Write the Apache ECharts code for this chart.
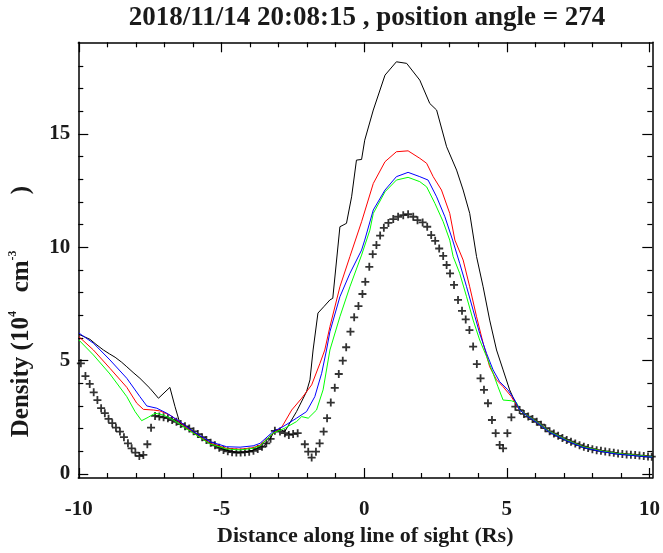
<!DOCTYPE html>
<html>
<head>
<meta charset="UTF-8">
<title>Density along line of sight</title>
<script src="https://cdn.jsdelivr.net/npm/echarts@6/dist/echarts.min.js"></script>
<style>
  html, body { margin: 0; padding: 0; background: #fff; }
  #main { width: 663px; height: 553px; }
</style>
</head>
<body>
<div id="main"></div>
<script type="text/javascript">
var titleText = '2018/11/14 20:08:15 , position angle = 274';
var xName = 'Distance along line of sight (Rs)';

// tick values
var xMajor = [-10, -5, 0, 5, 10];
var xMinor = [-9, -8, -7, -6, -4, -3, -2, -1, 1, 2, 3, 4, 6, 7, 8, 9];
var yMajor = [0, 5, 10, 15];
var yMinor = [1, 2, 3, 4, 6, 7, 8, 9, 11, 12, 13, 14, 16, 17, 18];

// black line
var blackLine = [
  [-10, 6.16], [-9.8, 6.05], [-9.61, 5.94], [-9.4, 5.72], [-9.14, 5.47], [-8.93, 5.3], [-8.73, 5.15],
  [-8.5, 4.93], [-8.32, 4.73], [-8.1, 4.48], [-7.86, 4.22], [-7.51, 3.78], [-7.21, 3.34], [-6.81, 3.82],
  [-6.63, 2.97], [-6.46, 2.24], [-6.2, 2.08], [-5.99, 1.87], [-5.7, 1.6], [-5.4, 1.35], [-5.1, 1.16],
  [-4.82, 1.04], [-4.5, 0.97], [-4.2, 0.97], [-3.89, 1.04], [-3.65, 1.18], [-3.54, 1.2], [-3.3, 1.53],
  [-3.13, 1.94], [-2.95, 1.97], [-2.78, 1.87], [-2.61, 2.24], [-2.37, 2.75], [-2.02, 3.63], [-1.9, 4.15],
  [-1.79, 5.47], [-1.62, 7.1], [-1.4, 7.4], [-1.2, 7.68], [-1.1, 7.75], [-0.85, 10.91], [-0.74, 10.98],
  [-0.62, 11.06], [-0.44, 12.23], [-0.27, 13.85], [-0.09, 13.88], [0.02, 14.73], [0.32, 16.06],
  [0.73, 17.6], [1.13, 18.19], [1.49, 18.12], [1.95, 17.38], [2.3, 16.35], [2.54, 16.06], [2.89, 14.44],
  [3.24, 13.41], [3.47, 12.53], [3.7, 11.5], [3.94, 9.59], [4.17, 8.26], [4.4, 6.79], [4.64, 5.47],
  [4.87, 4.59], [5.1, 3.71], [5.34, 3.04], [5.57, 2.68], [5.69, 2.6], [6.04, 2.31], [6.5, 1.87],
  [7.09, 1.5], [7.67, 1.2], [8.26, 1.03], [8.84, 0.91], [9.42, 0.84], [10.1, 0.76]
];

// red line
var redLine = [
  [-10, 6.06], [-9.49, 5.47], [-8.91, 4.66], [-8.32, 3.82], [-7.97, 3.12], [-7.74, 2.85], [-7.39, 2.82],
  [-7.16, 2.78], [-6.81, 2.6], [-6.46, 2.28], [-5.99, 1.82], [-5.4, 1.35], [-4.82, 1.13], [-4.35, 1.09],
  [-3.89, 1.16], [-3.65, 1.27], [-3.19, 1.8], [-2.89, 2.06], [-2.54, 2.82], [-2.19, 3.34], [-1.84, 3.93],
  [-1.55, 4.88], [-1.38, 5.47], [-1.2, 6.5], [-0.85, 8.26], [-0.5, 9.59], [-0.09, 11.13], [0.32, 12.82],
  [0.73, 13.78], [1.13, 14.22], [1.54, 14.26], [1.95, 13.93], [2.19, 13.71], [2.42, 13.12], [2.71, 12.53],
  [3.0, 11.5], [3.18, 10.32], [3.47, 9.44], [3.7, 8.26], [3.94, 6.94], [4.17, 5.77], [4.4, 4.73],
  [4.64, 4.15], [4.87, 3.85], [5.16, 3.41], [5.34, 3.04], [5.45, 2.82], [5.69, 2.6], [6.04, 2.31],
  [6.5, 1.87], [7.09, 1.5], [7.67, 1.2], [8.26, 1.03], [8.84, 0.91], [9.42, 0.84], [10.1, 0.76]
];

// blue line
var blueLine = [
  [-10, 6.22], [-9.49, 5.77], [-8.91, 5.03], [-8.32, 4.22], [-7.86, 3.41], [-7.62, 3.0], [-7.27, 2.9],
  [-6.92, 2.68], [-6.46, 2.31], [-5.99, 1.87], [-5.4, 1.42], [-4.82, 1.2], [-4.35, 1.18], [-3.89, 1.24],
  [-3.65, 1.35], [-3.19, 1.87], [-2.84, 2.09], [-2.37, 2.46], [-2.02, 2.75], [-1.73, 3.41], [-1.49, 4.44],
  [-1.32, 5.47], [-1.2, 6.28], [-0.85, 7.82], [-0.5, 8.85], [-0.09, 9.88], [0.02, 10.32], [0.32, 11.65],
  [0.73, 12.53], [1.13, 13.12], [1.54, 13.31], [1.95, 13.12], [2.24, 12.97], [2.54, 12.23], [2.83, 11.35],
  [3.1, 10.32], [3.35, 9.29], [3.59, 8.26], [3.82, 7.23], [4.05, 6.2], [4.29, 5.32], [4.52, 4.59],
  [4.75, 4.07], [5.04, 3.71], [5.28, 3.26], [5.45, 2.82], [5.69, 2.58], [6.04, 2.28], [6.5, 1.84],
  [7.09, 1.47], [7.67, 1.17], [8.26, 1.0], [8.84, 0.88], [9.42, 0.81], [10.1, 0.74]
];

// green line
var greenLine = [
  [-10, 5.91], [-9.49, 5.25], [-8.91, 4.41], [-8.32, 3.41], [-8.03, 2.75], [-7.8, 2.35], [-7.57, 2.5],
  [-7.33, 2.68], [-7.04, 2.6], [-6.69, 2.38], [-5.99, 1.8], [-5.4, 1.32], [-4.82, 1.1], [-4.35, 1.06],
  [-3.89, 1.13], [-3.65, 1.24], [-3.19, 1.8], [-2.78, 2.02], [-2.37, 2.31], [-2.19, 2.53], [-1.96, 2.46],
  [-1.67, 2.82], [-1.44, 3.71], [-1.2, 5.47], [-0.85, 6.94], [-0.5, 8.26], [-0.09, 9.66], [0.2, 10.76],
  [0.32, 11.5], [0.73, 12.45], [1.13, 12.97], [1.54, 13.09], [1.95, 12.9], [2.19, 12.67], [2.48, 11.94],
  [2.77, 11.13], [3.0, 10.32], [3.12, 9.59], [3.35, 8.85], [3.59, 7.82], [3.82, 6.79], [4.05, 5.91],
  [4.29, 5.18], [4.52, 4.44], [4.69, 3.85], [4.87, 3.26], [5.16, 3.23], [5.34, 3.15], [5.45, 2.82],
  [5.69, 2.6], [6.04, 2.31], [6.5, 1.87], [7.09, 1.5], [7.67, 1.2], [8.26, 1.03], [8.84, 0.91],
  [9.42, 0.84], [10.1, 0.76]
];

// "+" points
var crossPts = [
  [-9.93, 4.88], [-9.77, 4.32], [-9.62, 3.97], [-9.48, 3.6], [-9.35, 3.26], [-9.22, 2.9], [-9.09, 2.68],
  [-8.96, 2.43], [-8.83, 2.24], [-8.7, 2.04], [-8.56, 1.87], [-8.42, 1.62], [-8.28, 1.35], [-8.15, 1.13],
  [-8.02, 0.94], [-7.88, 0.79], [-7.74, 0.84], [-7.6, 1.31], [-7.47, 2.04], [-7.33, 2.56], [-7.18, 2.53],
  [-7.03, 2.5], [-6.88, 2.46], [-6.73, 2.38], [-6.58, 2.3], [-6.43, 2.2], [-6.28, 2.1], [-6.13, 2.0],
  [-5.98, 1.88], [-5.83, 1.76], [-5.68, 1.62], [-5.53, 1.5], [-5.38, 1.38], [-5.23, 1.26], [-5.08, 1.15],
  [-4.93, 1.06], [-4.78, 1.0], [-4.63, 0.96], [-4.48, 0.94], [-4.33, 0.94], [-4.18, 0.96], [-4.03, 0.98],
  [-3.88, 1.02], [-3.73, 1.1], [-3.58, 1.2], [-3.43, 1.35], [-3.28, 1.55], [-3.13, 1.9], [-2.95, 1.87],
  [-2.78, 1.8], [-2.64, 1.72], [-2.49, 1.76], [-2.33, 1.8], [-2.08, 1.31], [-1.96, 0.98], [-1.84, 0.72],
  [-1.69, 0.98], [-1.56, 1.35], [-1.42, 1.87], [-1.3, 2.46], [-1.17, 3.15], [-1.03, 3.8], [-0.89, 4.41],
  [-0.75, 5.0], [-0.63, 5.59], [-0.48, 6.28], [-0.35, 6.91], [-0.2, 7.41], [-0.06, 7.94], [0.04, 8.48],
  [0.18, 9.14], [0.3, 9.7], [0.43, 10.1], [0.56, 10.52], [0.69, 10.86], [0.85, 11.08], [1.02, 11.25],
  [1.19, 11.35], [1.37, 11.42], [1.54, 11.46], [1.72, 11.35], [1.87, 11.2], [2.05, 11.1], [2.21, 10.91],
  [2.35, 10.54], [2.49, 10.29], [2.63, 9.95], [2.77, 9.62], [2.89, 9.22], [3.01, 8.85], [3.15, 8.34],
  [3.29, 7.68], [3.43, 7.2], [3.56, 6.82], [3.69, 6.35], [3.82, 5.62], [3.95, 4.85], [4.08, 4.22],
  [4.2, 3.71], [4.34, 3.12], [4.48, 2.38], [4.61, 1.8], [4.75, 1.28], [4.87, 1.13], [5.02, 1.8],
  [5.16, 2.5], [5.3, 2.97], [5.45, 2.82], [5.6, 2.65], [5.75, 2.53], [5.9, 2.42], [6.05, 2.3],
  [6.2, 2.17], [6.35, 2.02], [6.5, 1.88], [6.65, 1.78], [6.8, 1.68], [6.95, 1.58], [7.1, 1.5],
  [7.25, 1.42], [7.4, 1.34], [7.55, 1.27], [7.7, 1.2], [7.85, 1.14], [8.0, 1.09], [8.15, 1.05],
  [8.3, 1.02], [8.45, 0.99], [8.6, 0.96], [8.75, 0.93], [8.9, 0.9], [9.05, 0.88], [9.2, 0.86],
  [9.35, 0.85], [9.5, 0.83], [9.65, 0.81], [9.8, 0.79], [9.95, 0.77], [10.08, 0.76]
];

var FONT = '"Liberation Serif", "DejaVu Serif", serif';
var INK = '#1a1a1a';
var X_MIN = -10.02, X_MAX = 10.1, Y_MIN = -0.18, Y_MAX = 19.05;

function tickAxis(pos, isX, ticks, len, withLine, withLabel) {
    var ax = {
        type: 'value',
        position: pos,
        min: isX ? X_MIN : Y_MIN,
        max: isX ? X_MAX : Y_MAX,
        splitLine: { show: false },
        axisLine: { show: withLine, onZero: false, lineStyle: { color: '#000', width: 1.5 } },
        axisTick: { show: true, inside: true, length: len, customValues: ticks,
                    lineStyle: { color: '#000', width: 1.2 } },
        axisLabel: { show: false }
    };
    if (withLabel) {
        ax.axisLabel = {
            show: true, customValues: ticks, color: INK,
            fontFamily: FONT, fontWeight: 'bold', fontSize: 21,
            margin: isX ? 21 : 8
        };
    }
    return ax;
}

var myChart = echarts.init(document.getElementById('main'));

var xAxes = [
    tickAxis('bottom', true, xMajor, 10, true, true),
    tickAxis('bottom', true, xMinor, 5, false, false),
    tickAxis('top', true, xMajor, 10, true, false),
    tickAxis('top', true, xMinor, 5, false, false)
];
xAxes[0].name = xName;
xAxes[0].nameLocation = 'middle';
xAxes[0].nameGap = 44;
xAxes[0].nameTextStyle = { color: INK, fontFamily: FONT, fontWeight: 'bold', fontSize: 22 };

var yAxes = [
    tickAxis('left', false, yMajor, 10, true, true),
    tickAxis('left', false, yMinor, 5, false, false),
    tickAxis('right', false, yMajor, 10, true, false),
    tickAxis('right', false, yMinor, 5, false, false)
];

var option = {
    animation: false,
    backgroundColor: '#fff',
    grid: { left: 78.3, right: 10.7, top: 42.3, bottom: 75 },
    xAxis: xAxes,
    yAxis: yAxes,
    graphic: [
        {
            type: 'text', x: 367, y: 18,
            style: { text: titleText, fill: INK, align: 'center', verticalAlign: 'middle',
                     font: 'bold 27px ' + FONT }
        },
        {
            // y title, IDL-style wide gap before the closing bracket
            type: 'text', x: 22, y: 311.5, rotation: Math.PI / 2,
            style: {
                text: '{b|Density (10}{s|4}{b|   cm}{s|-3}{b|         )}',
                align: 'center', verticalAlign: 'middle', fill: INK,
                rich: {
                    b: { fontFamily: FONT, fontWeight: 'bold', fontSize: 25, lineHeight: 30, fill: INK },
                    s: { fontFamily: FONT, fontWeight: 'bold', fontSize: 12, lineHeight: 14,
                         verticalAlign: 'top', fill: INK }
                }
            }
        }
    ],
    series: [
        {
            type: 'scatter', name: 'obs', data: crossPts,
            symbol: 'path://M5,0L5,10M0,5L10,5', symbolSize: 8,
            itemStyle: { color: 'none', borderColor: '#000', borderWidth: 1.8 }
        },
        { type: 'line', name: 'black', data: blackLine, showSymbol: false,
          lineStyle: { color: '#000', width: 1 } },
        { type: 'line', name: 'red', data: redLine, showSymbol: false,
          lineStyle: { color: '#ff0000', width: 1 } },
        { type: 'line', name: 'green', data: greenLine, showSymbol: false,
          lineStyle: { color: '#00ff00', width: 1 } },
        { type: 'line', name: 'blue', data: blueLine, showSymbol: false,
          lineStyle: { color: '#0000ff', width: 1 } }
    ]
};

myChart.setOption(option);
</script>
</body>
</html>
